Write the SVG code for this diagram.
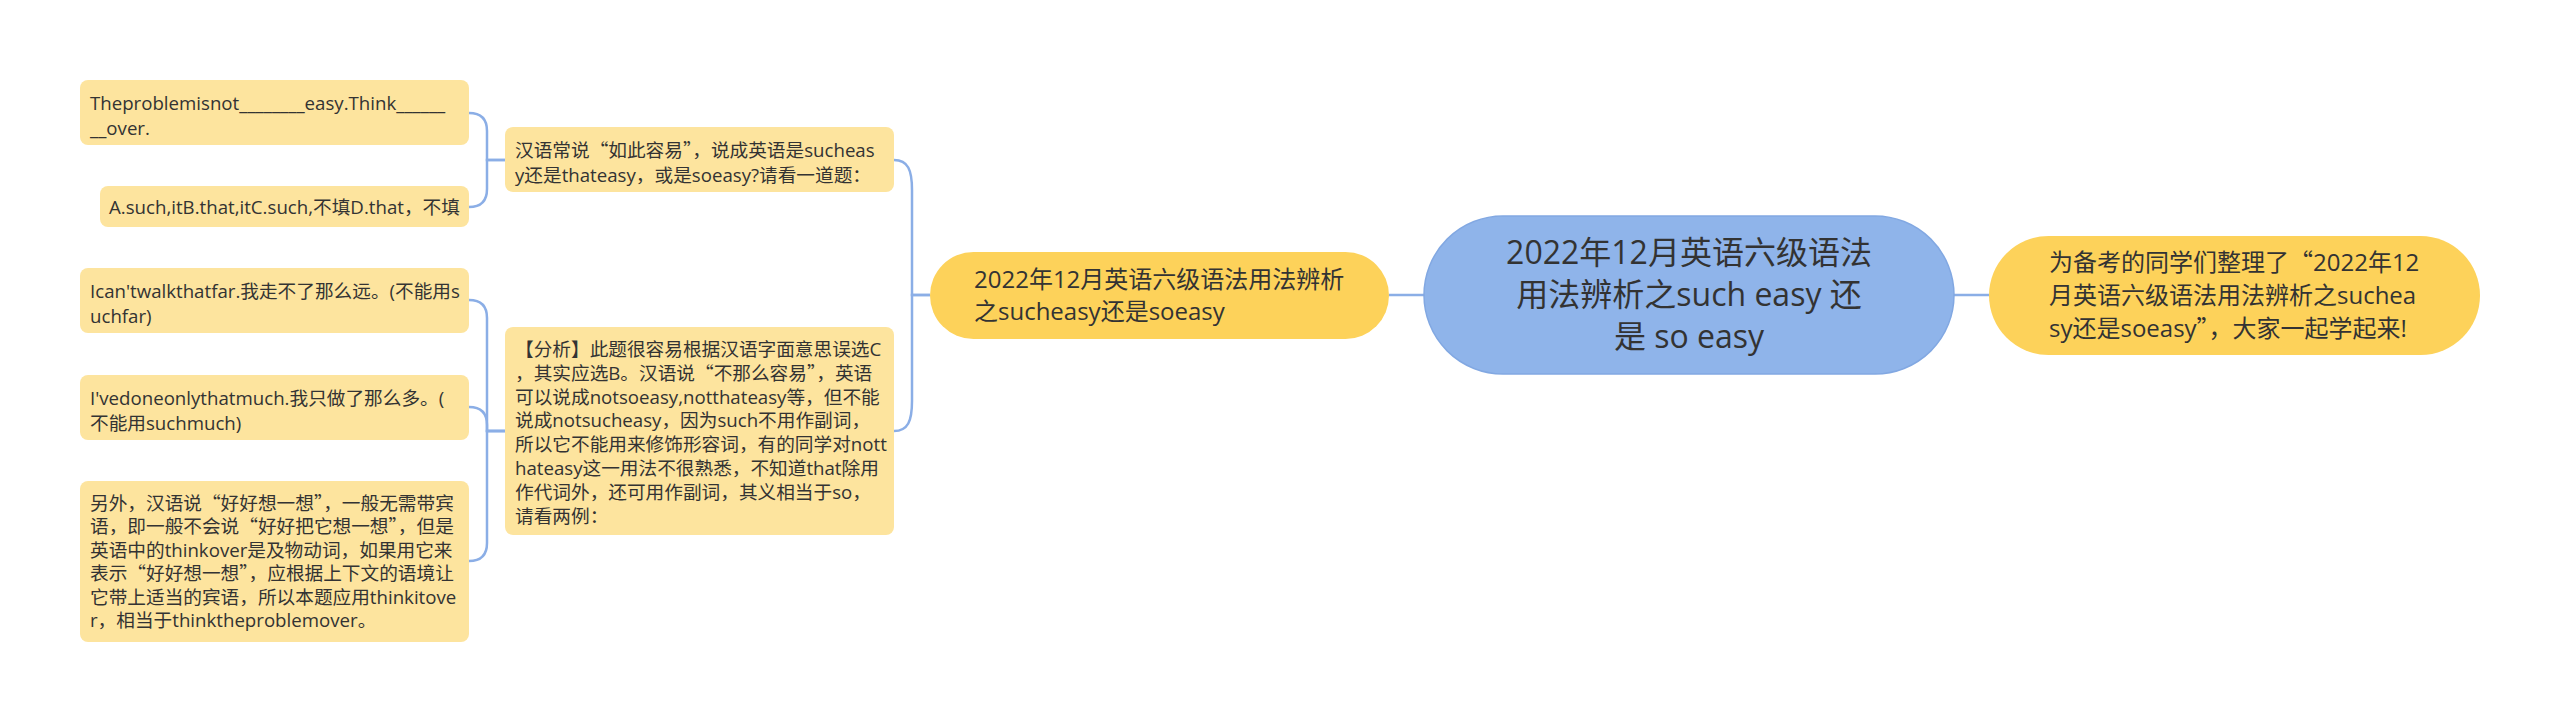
<svg xmlns="http://www.w3.org/2000/svg" width="2560" height="722" viewBox="0 0 2560 722">
<style>
text{font-family:"Open Sans","Noto Sans CJK SC",sans-serif;fill:#333333;}
.q{font-family:"Noto Sans CJK SC",sans-serif;}
.leaf rect{fill:#FDE49E;}
.leaf text{font-size:18.67px;}
.branch rect{fill:#FDD25A;}
.branch text{font-size:24px;}
.root rect{fill:#8FB4EA;stroke:#82A8E2;stroke-width:1.5;}
.root text{font-size:32px;}
#connectors path{fill:none;stroke:#8BAEE6;stroke-width:2.5;}
</style>
<rect width="2560" height="722" fill="#ffffff"/>
<g id="connectors">
<path d="M1389,295 H1424"/>
<path d="M1954,295 H1989"/>
<path d="M930,295 H912 V190 C912,170 908,160 894,160"/>
<path d="M930,295 H912 V401 C912,421 908,431 894,431"/>
<path d="M505,160 H487 V131 Q487,113 469,113"/>
<path d="M505,160 H487 V189 Q487,207 469,207"/>
<path d="M505,431 H487 V318 Q487,300 469,300"/>
<path d="M505,431 H487 V425 Q487,407 469,407"/>
<path d="M505,431 H487 V543 Q487,561 469,561"/>
</g>
<g id="root" class="root">
<rect x="1424" y="216" width="530" height="158" rx="79"/>
<text x="1689" text-anchor="middle"><tspan x="1689" y="264">2022年12月英语六级语法</tspan><tspan x="1689" y="306">用法辨析之such easy 还</tspan><tspan x="1689" y="348">是 so easy</tspan></text>
</g>
<g id="branch-left" class="branch">
<rect x="930" y="252" width="459" height="87" rx="43.5"/>
<text><tspan x="974" y="288">2022年12月英语六级语法用法辨析</tspan><tspan x="974" y="320">之sucheasy还是soeasy</tspan></text>
</g>
<g id="branch-right" class="branch">
<rect x="1989" y="236" width="491" height="119" rx="59.5"/>
<text><tspan x="2049" y="271">为备考的同学们整理了<tspan class="q">“</tspan>2022年12</tspan><tspan x="2049" y="304">月英语六级语法用法辨析之suchea</tspan><tspan x="2049" y="337">sy还是soeasy<tspan class="q">”</tspan>，大家一起学起来!</tspan></text>
</g>
<g id="node-intro" class="leaf">
<rect x="505" y="127" width="389" height="65" rx="8"/>
<text><tspan x="515" y="157">汉语常说<tspan class="q">“</tspan>如此容易<tspan class="q">”</tspan>，说成英语是sucheas</tspan><tspan x="515" y="182">y还是thateasy，或是soeasy?请看一道题：</tspan></text>
</g>
<g id="node-question" class="leaf">
<rect x="80" y="80" width="389" height="65" rx="8"/>
<text><tspan x="90" y="110">Theproblemisnot________easy.Think______</tspan><tspan x="90" y="135">__over.</tspan></text>
</g>
<g id="node-options" class="leaf">
<rect x="100" y="186" width="369" height="41" rx="8"/>
<text x="109" y="214">A.such,itB.that,itC.such,不填D.that，不填</text>
</g>
<g id="node-analysis" class="leaf">
<rect x="505" y="327" width="389" height="208" rx="8"/>
<text><tspan x="515" y="356">【分析】此题很容易根据汉语字面意思误选C</tspan><tspan x="515" y="379.8">，其实应选B。汉语说<tspan class="q">“</tspan>不那么容易<tspan class="q">”</tspan>，英语</tspan><tspan x="515" y="403.6">可以说成notsoeasy,notthateasy等，但不能</tspan><tspan x="515" y="427.4">说成notsucheasy，因为such不用作副词，</tspan><tspan x="515" y="451.2">所以它不能用来修饰形容词，有的同学对nott</tspan><tspan x="515" y="475">hateasy这一用法不很熟悉，不知道that除用</tspan><tspan x="515" y="498.8">作代词外，还可用作副词，其义相当于so，</tspan><tspan x="515" y="522.6">请看两例：</tspan></text>
</g>
<g id="node-example1" class="leaf">
<rect x="80" y="268" width="389" height="65" rx="8"/>
<text><tspan x="90" y="298">Ican'twalkthatfar.我走不了那么远。(不能用s</tspan><tspan x="90" y="323">uchfar)</tspan></text>
</g>
<g id="node-example2" class="leaf">
<rect x="80" y="375" width="389" height="65" rx="8"/>
<text><tspan x="90" y="405">I'vedoneonlythatmuch.我只做了那么多。(</tspan><tspan x="90" y="430">不能用suchmuch)</tspan></text>
</g>
<g id="node-thinkover" class="leaf">
<rect x="80" y="481" width="389" height="161" rx="8"/>
<text><tspan x="90" y="510">另外，汉语说<tspan class="q">“</tspan>好好想一想<tspan class="q">”</tspan>，一般无需带宾</tspan><tspan x="90" y="533.4">语，即一般不会说<tspan class="q">“</tspan>好好把它想一想<tspan class="q">”</tspan>，但是</tspan><tspan x="90" y="556.8">英语中的thinkover是及物动词，如果用它来</tspan><tspan x="90" y="580.2">表示<tspan class="q">“</tspan>好好想一想<tspan class="q">”</tspan>，应根据上下文的语境让</tspan><tspan x="90" y="603.6">它带上适当的宾语，所以本题应用thinkitove</tspan><tspan x="90" y="627">r，相当于thinktheproblemover。</tspan></text>
</g>
</svg>
